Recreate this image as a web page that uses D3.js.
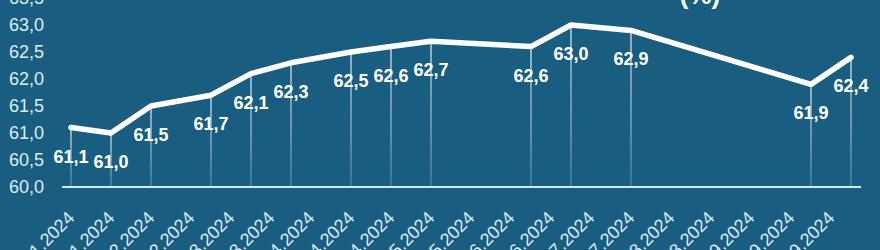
<!DOCTYPE html>
<html>
<head>
<meta charset="utf-8">
<script src="https://cdn.jsdelivr.net/npm/d3@7"></script>
<style>
  html, body { margin: 0; padding: 0; background: #195e80; overflow: hidden; }
  text { font-family: "Liberation Sans", Arial, sans-serif; }
</style>
</head>
<body>
<div id="chart"></div>
<script>
// weekly readings (dates of each point) and values in %
var dates = ["2024-01-08", "2024-01-22", "2024-02-05", "2024-02-26", "2024-03-11",
             "2024-03-25", "2024-04-15", "2024-04-29", "2024-05-13", "2024-06-17",
             "2024-07-01", "2024-07-22", "2024-09-23", "2024-10-07"];
var values = [61.1, 61.0, 61.5, 61.7, 62.1, 62.3, 62.5, 62.6, 62.7, 62.6, 63.0, 62.9, 61.9, 62.4];
var yTicks = [60.0, 60.5, 61.0, 61.5, 62.0, 62.5, 63.0, 63.5];
var title = "(%)";

var width = 880, height = 250;
var parse = d3.timeParse("%Y-%m-%d");
var fmtDate = d3.timeFormat("%d.%m.%Y");
var fmtNum = function(v) { return v.toFixed(1).replace(".", ","); };

var data = dates.map(function(d, i) { return {date: parse(d), value: values[i]}; });

var xScale = d3.scaleTime()
    .domain([data[0].date, data[data.length - 1].date])
    .range([71, 851]);

var yScale = d3.scaleLinear()
    .domain([60, 63.5])
    .range([187, -2]);

var svg = d3.select("#chart").append("svg")
    .attr("width", width)
    .attr("height", height);

svg.append("rect")
    .attr("width", width)
    .attr("height", height)
    .attr("fill", "#195e80");

// title, mostly cut off at the top
svg.append("text")
    .attr("x", 700)
    .attr("y", 4)
    .attr("text-anchor", "middle")
    .style("font-size", "26px")
    .style("font-weight", "bold")
    .attr("fill", "#ffffff")
    .text(title);

// y axis labels
var yAxis = svg.append("g")
    .attr("transform", "translate(44,0)")
    .call(d3.axisLeft(yScale).tickValues(yTicks).tickSize(0).tickPadding(0).tickFormat(fmtNum));
yAxis.select(".domain").remove();
yAxis.selectAll("text")
    .style("font-size", "18px")
    .attr("fill", "#dcedf4");

// x axis: tick every two weeks
var xTickVals = d3.range(20).map(function(k) { return d3.timeDay.offset(data[0].date, 14 * k); });
var xAxis = svg.append("g")
    .attr("transform", "translate(0,187)")
    .call(d3.axisBottom(xScale).tickValues(xTickVals).tickSize(0).tickFormat(fmtDate));
xAxis.select(".domain").remove();
xAxis.selectAll("text")
    .style("font-size", "18px")
    .attr("fill", "#dcedf4")
    .attr("text-anchor", "end")
    .attr("y", 0)
    .attr("dy", "0")
    .attr("transform", "translate(4,32) rotate(-45)");

// drop lines, fading towards the baseline
var grad = svg.append("defs").append("linearGradient")
    .attr("id", "drop")
    .attr("x1", 0).attr("y1", 0).attr("x2", 0).attr("y2", 1);
grad.append("stop").attr("offset", "0%").attr("stop-color", "#ffffff").attr("stop-opacity", 0.9);
grad.append("stop").attr("offset", "100%").attr("stop-color", "#ffffff").attr("stop-opacity", 0.25);

svg.selectAll(".drop")
    .data(data)
    .enter().append("rect")
    .attr("class", "drop")
    .attr("x", function(d) { return xScale(d.date) - 0.6; })
    .attr("y", function(d) { return yScale(d.value); })
    .attr("width", 1.2)
    .attr("height", function(d) { return yScale(60) - yScale(d.value); })
    .attr("fill", "url(#drop)");

// baseline
svg.append("line")
    .attr("x1", 62).attr("x2", 861)
    .attr("y1", yScale(60)).attr("y2", yScale(60))
    .attr("stroke", "#d4eaf3")
    .attr("stroke-width", 2);

var line = d3.line()
    .x(function(d) { return xScale(d.date); })
    .y(function(d) { return yScale(d.value); });

svg.append("path")
    .datum(data)
    .attr("d", line)
    .attr("fill", "none")
    .attr("stroke", "#ffffff")
    .attr("stroke-width", 5.5)
    .attr("stroke-linejoin", "round")
    .attr("stroke-linecap", "round");

svg.selectAll(".val")
    .data(data)
    .enter().append("text")
    .attr("class", "val")
    .attr("x", function(d) { return xScale(d.date); })
    .attr("y", function(d) { return yScale(d.value) + 35; })
    .attr("text-anchor", "middle")
    .style("font-size", "18px")
    .style("font-weight", "bold")
    .attr("fill", "#ffffff")
    .text(function(d) { return fmtNum(d.value); });
</script>
</body>
</html>
